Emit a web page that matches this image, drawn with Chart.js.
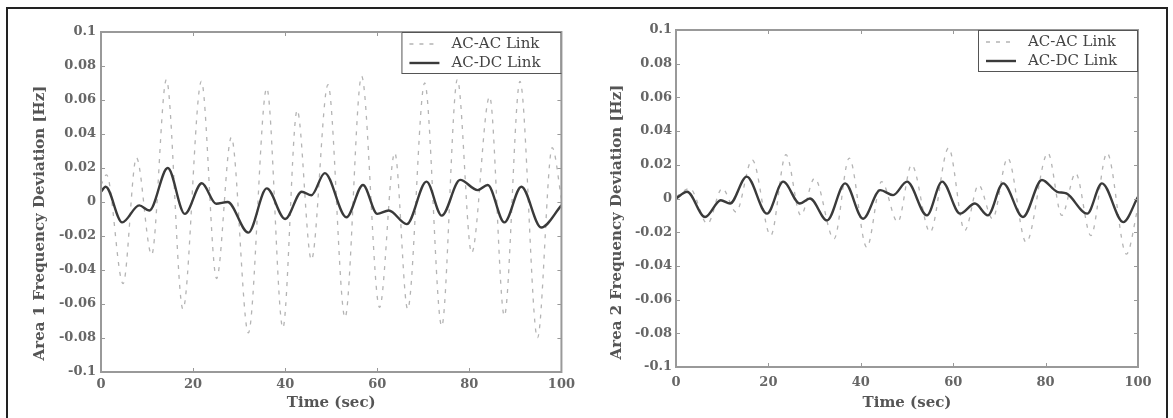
<!DOCTYPE html>
<html>
<head>
<meta charset="utf-8">
<title>Area frequency deviation</title>
<script src="https://cdn.jsdelivr.net/npm/chart.js@4.4.0/dist/chart.umd.min.js"></script>
<style>
  html, body { margin: 0; padding: 0; background: #fff; overflow: hidden; }
  body { width: 1173px; height: 418px; position: relative; }
  #frame { position: absolute; left: 6px; top: 7px; width: 1162px; height: 600px; border: 2px solid #222; box-sizing: border-box; }
  .panel { position: absolute; top: 0; height: 418px; }
  #p1 { left: 0; width: 580px; }
  #p2 { left: 580px; width: 593px; }
</style>
</head>
<body>
<div id="frame"></div>
<div class="panel" id="p1"><canvas id="area1"></canvas></div>
<div class="panel" id="p2"><canvas id="area2"></canvas></div>
<script>
// values: time (sec) of each turning point and deviation (Hz)
const xTicks = [0, 20, 40, 60, 80, 100];
const yTicks = [-0.1, -0.08, -0.06, -0.04, -0.02, 0, 0.02, 0.04, 0.06, 0.08, 0.1];

const area1AcAcTime = [0, 1.2, 4.8, 7.7, 11, 14.2, 17.8, 21.8, 25.1, 28.3, 32, 36, 39.5, 42.6, 45.7, 49.3, 53, 56.6, 60.5, 63.8, 66.6, 70.3, 74, 77.4, 80.5, 84.4, 87.6, 91, 94.8, 98, 100];
const area1AcAc = [0.010, 0.016, -0.048, 0.026, -0.031, 0.072, -0.063, 0.071, -0.045, 0.038, -0.077, 0.067, -0.074, 0.054, -0.034, 0.069, -0.068, 0.074, -0.062, 0.029, -0.063, 0.070, -0.073, 0.072, -0.030, 0.062, -0.067, 0.071, -0.080, 0.032, 0.002];

const area1AcDcTime = [0, 1, 4.6, 8.3, 10.5, 14.5, 18.2, 21.9, 25, 27.5, 32, 36, 40, 43.6, 45.7, 48.6, 53.3, 56.9, 60, 62.5, 66.4, 70.7, 74, 78, 81.8, 84, 87.6, 91.3, 95.6, 100];
const area1AcDc = [0.006, 0.009, -0.012, -0.002, -0.005, 0.020, -0.007, 0.011, -0.001, 0.000, -0.018, 0.008, -0.010, 0.006, 0.004, 0.017, -0.009, 0.010, -0.007, -0.005, -0.013, 0.012, -0.008, 0.013, 0.007, 0.010, -0.012, 0.009, -0.015, -0.002];

const area2AcAcTime = [0, 3, 6.8, 10, 13, 16.5, 20.5, 23.8, 27, 30, 34.2, 37.5, 41.3, 44.5, 48, 51, 55, 59, 62.5, 65.5, 68.5, 71.8, 75.8, 80.5, 83.5, 86.5, 89.8, 93.3, 97.5, 100];
const area2AcAc = [0.001, 0.006, -0.015, 0.006, -0.008, 0.023, -0.022, 0.026, -0.010, 0.012, -0.024, 0.024, -0.029, 0.010, -0.014, 0.020, -0.020, 0.030, -0.019, 0.008, -0.012, 0.024, -0.026, 0.027, -0.010, 0.015, -0.022, 0.027, -0.033, -0.005];

const area2AcDcTime = [0, 2.4, 6.3, 9.7, 11.7, 15.3, 19.7, 23.2, 26.8, 29, 32.7, 36.6, 40.5, 44.2, 47, 50, 54.3, 57.6, 61.5, 64.7, 67.5, 70.8, 75.1, 79.2, 82.5, 84.5, 89, 92.2, 96.8, 100];
const area2AcDc = [0.000, 0.004, -0.011, -0.001, -0.003, 0.013, -0.009, 0.010, -0.003, 0.000, -0.013, 0.009, -0.012, 0.005, 0.002, 0.010, -0.010, 0.010, -0.009, -0.003, -0.010, 0.009, -0.011, 0.011, 0.004, 0.003, -0.009, 0.009, -0.014, 0.001];

const toPoints = (xs, ys) => xs.map((x, i) => ({ x: x, y: ys[i] }));

// matlab-style box: gray frame, inward ticks on all four sides, boxed legend, y title
const axesBox = {
    id: 'axesBox',
    afterDatasetsDraw(chart, args, opts) {
        const { ctx, chartArea: a, scales: { x, y } } = chart;
        ctx.save();

        ctx.strokeStyle = '#999';
        ctx.lineWidth = 2;
        ctx.strokeRect(a.left, a.top, a.width, a.height);
        ctx.lineWidth = 1;
        xTicks.forEach(v => {
            const px = Math.round(x.getPixelForValue(v)) + 0.5;
            ctx.beginPath();
            ctx.moveTo(px, a.bottom); ctx.lineTo(px, a.bottom - 4);
            ctx.moveTo(px, a.top); ctx.lineTo(px, a.top + 4);
            ctx.stroke();
        });
        yTicks.forEach(v => {
            const py = Math.round(y.getPixelForValue(v)) + 0.5;
            ctx.beginPath();
            ctx.moveTo(a.left, py); ctx.lineTo(a.left + 4, py);
            ctx.moveTo(a.right, py); ctx.lineTo(a.right - 4, py);
            ctx.stroke();
        });

        // legend
        const lx = a.right - 160, ly = a.top;
        ctx.fillStyle = '#fff';
        ctx.fillRect(lx, ly, 160, 41);
        ctx.strokeStyle = '#555';
        ctx.strokeRect(lx + 0.5, ly + 0.5, 159, 41);
        ctx.font = '15px "DejaVu Serif"';
        ctx.textBaseline = 'middle';
        ctx.textAlign = 'left';
        chart.data.datasets.forEach((ds, i) => {
            const rowY = ly + 12 + i * 19;
            ctx.strokeStyle = ds.borderColor;
            ctx.lineWidth = ds.borderWidth;
            ctx.setLineDash(ds.borderDash || []);
            ctx.beginPath();
            ctx.moveTo(a.right - 152, rowY);
            ctx.lineTo(a.right - 122, rowY);
            ctx.stroke();
            ctx.setLineDash([]);
            ctx.fillStyle = '#444';
            ctx.fillText(ds.label, a.right - 110, rowY);
        });

        // y axis title
        ctx.translate(opts.titleX, opts.titleY);
        ctx.rotate(-Math.PI / 2);
        ctx.textAlign = 'center';
        ctx.fillStyle = '#555';
        ctx.font = 'bold 15px "DejaVu Serif"';
        ctx.fillText(opts.yTitle, 0, 0);
        ctx.restore();
    }
};

function makeChart(id, acAc, acDc, geo) {
    const tickFont = { family: 'DejaVu Serif', size: 13, weight: 'bold' };
    return new Chart(document.getElementById(id).getContext('2d'), {
        type: 'line',
        data: {
            datasets: [{
                label: 'AC-AC Link',
                data: acAc,
                borderColor: '#b4b4b4',
                borderWidth: 1.3,
                borderDash: [4, 6],
                pointRadius: 0,
                cubicInterpolationMode: 'monotone',
                order: 1
            }, {
                label: 'AC-DC Link',
                data: acDc,
                borderColor: '#3a3a3a',
                borderWidth: 2.4,
                pointRadius: 0,
                cubicInterpolationMode: 'monotone',
                order: 0
            }]
        },
        options: {
            responsive: true,
            maintainAspectRatio: false,
            animation: false,
            layout: { padding: { top: geo.top, right: geo.right, left: 0, bottom: 0 } },
            plugins: {
                legend: { display: false },
                tooltip: { enabled: false },
                axesBox: { yTitle: geo.yTitle, titleX: geo.titleX, titleY: geo.titleY }
            },
            scales: {
                x: {
                    type: 'linear',
                    min: 0,
                    max: 100,
                    afterBuildTicks: s => { s.ticks = xTicks.map(v => ({ value: v })); },
                    afterFit: s => { s.height = geo.xHeight; },
                    grid: { display: false, drawTicks: false },
                    border: { display: false },
                    ticks: { font: tickFont, color: '#666', padding: geo.xPad, maxRotation: 0 },
                    title: {
                        display: true,
                        text: 'Time (sec)',
                        color: '#555',
                        font: { family: 'DejaVu Serif', size: 15, weight: 'bold' },
                        padding: { top: 0, bottom: 6 }
                    }
                },
                y: {
                    min: -0.1,
                    max: 0.1,
                    afterBuildTicks: s => { s.ticks = yTicks.map(v => ({ value: v })); },
                    afterFit: s => { s.width = geo.yWidth; },
                    grid: { display: false, drawTicks: false },
                    border: { display: false },
                    ticks: {
                        font: tickFont,
                        color: '#666',
                        padding: geo.yPad,
                        callback: v => String(Math.round(v * 100) / 100)
                    }
                }
            }
        },
        plugins: [axesBox]
    });
}

makeChart('area1', toPoints(area1AcAcTime, area1AcAc), toPoints(area1AcDcTime, area1AcDc), {
    top: 32, right: 18, yWidth: 101, xHeight: 46, xPad: 5, yPad: 5,
    yTitle: 'Area 1 Frequency Deviation [Hz]', titleX: 40, titleY: 223
});
makeChart('area2', toPoints(area2AcAcTime, area2AcAc), toPoints(area2AcDcTime, area2AcDc), {
    top: 30, right: 35, yWidth: 96, xHeight: 51, xPad: 8, yPad: 4,
    yTitle: 'Area 2 Frequency Deviation [Hz]', titleX: 37, titleY: 222
});
</script>
</body>
</html>
